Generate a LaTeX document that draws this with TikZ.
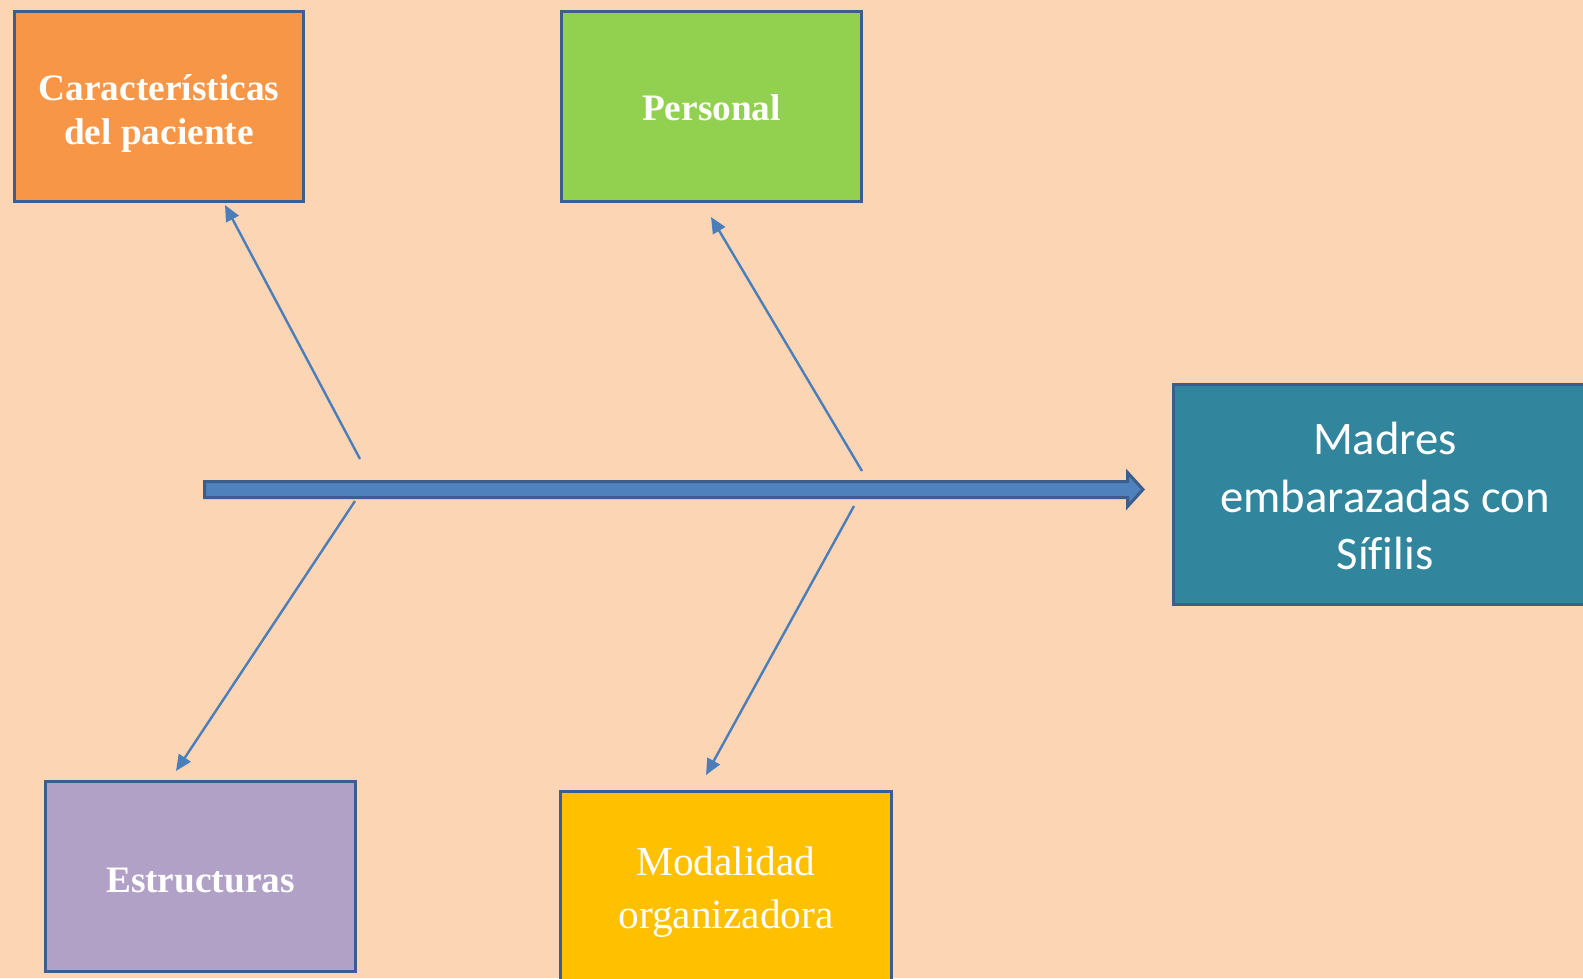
\documentclass[tikz,border=0pt]{standalone}
\usepackage{fontspec}
\setmainfont{Liberation Serif}
\newfontfamily\calib[Ligatures=NoCommon]{Carlito}
\usetikzlibrary{arrows.meta}
\definecolor{bg}{HTML}{FCD5B5}
\definecolor{bord}{HTML}{3B5E8C}
\definecolor{corange}{HTML}{F79646}
\definecolor{cgreen}{HTML}{92D050}
\definecolor{cteal}{HTML}{31859C}
\definecolor{cpurple}{HTML}{B2A1C7}
\definecolor{cgold}{HTML}{FFC000}
\definecolor{spinefill}{HTML}{4F81BD}
\definecolor{spinebord}{HTML}{3B5E8C}
\definecolor{linec}{HTML}{4A7EBB}
\tikzset{
  box/.style={draw=bord, line width=2.25pt, rectangle, inner sep=0pt},
  lbl/.style={align=center, text=white, inner sep=0pt},
  catbold/.style={font=\fontsize{28}{33}\selectfont\bfseries},
  bone/.style={draw=linec, line width=1.8pt, -{Triangle[length=12pt,width=10.5pt]}},
}
\begin{document}
\begin{tikzpicture}[x=0.75pt,y=-0.75pt]
\fill[bg] (0,0) rectangle (1583,978);
\useasboundingbox (0,0) rectangle (1583,978);
% boxes
\node[box, fill=corange, minimum width=216.75pt, minimum height=142.5pt] (pac) at (159,106.5) {};
\node[box, fill=cgreen, minimum width=225pt, minimum height=142.5pt] (per) at (711.5,106.5) {};
\node[box, fill=cpurple, minimum width=232.5pt, minimum height=142.5pt] (est) at (200.5,876.5) {};
\node[box, fill=cgold, minimum width=248.25pt, minimum height=144.75pt] (mod) at (726,888) {};
\node[box, fill=cteal, minimum width=317.25pt, minimum height=165pt] (mad) at (1385,494.5) {};
% labels
\node[lbl, catbold] (pactx) at ([shift={(0,7)}]pac.center) {Características\\del paciente};
\node[lbl, catbold] (pertx) at ([shift={(0,1.5)}]per.center) {Personal};
\node[lbl, catbold] (esttx) at ([shift={(0,3.5)}]est.center) {Estructuras};
\node[lbl, font=\fontsize{31}{40}\selectfont] (modtx) at ([shift={(0,4)}]mod.center) {Modalidad\\organizadora};
\node[lbl, font=\calib\fontsize{35}{43}\selectfont] (madtx) at ([shift={(0,1.5)}]mad.center) {Madres\\embarazadas con\\Sífilis};
% spine
\draw[draw=spinebord, fill=spinefill, line width=2.25pt, line join=miter]
  (204.5,481.5) -- (1127.5,481.5) -- (1127.5,472.5) -- (1143,489.5) -- (1127.5,506.5) -- (1127.5,497.5) -- (204.5,497.5) -- cycle;
% bones
\coordinate (b1s) at (360,459);
\coordinate (b1e) at (225,205);
\coordinate (b2s) at (862,471);
\coordinate (b2e) at (711,217);
\coordinate (b3s) at (355,501);
\coordinate (b3e) at (176,771);
\coordinate (b4s) at (854,506);
\coordinate (b4e) at (706,775);
\draw[bone] (b1s) -- (b1e);
\draw[bone] (b2s) -- (b2e);
\draw[bone] (b3s) -- (b3e);
\draw[bone] (b4s) -- (b4e);
\end{tikzpicture}
\end{document}
